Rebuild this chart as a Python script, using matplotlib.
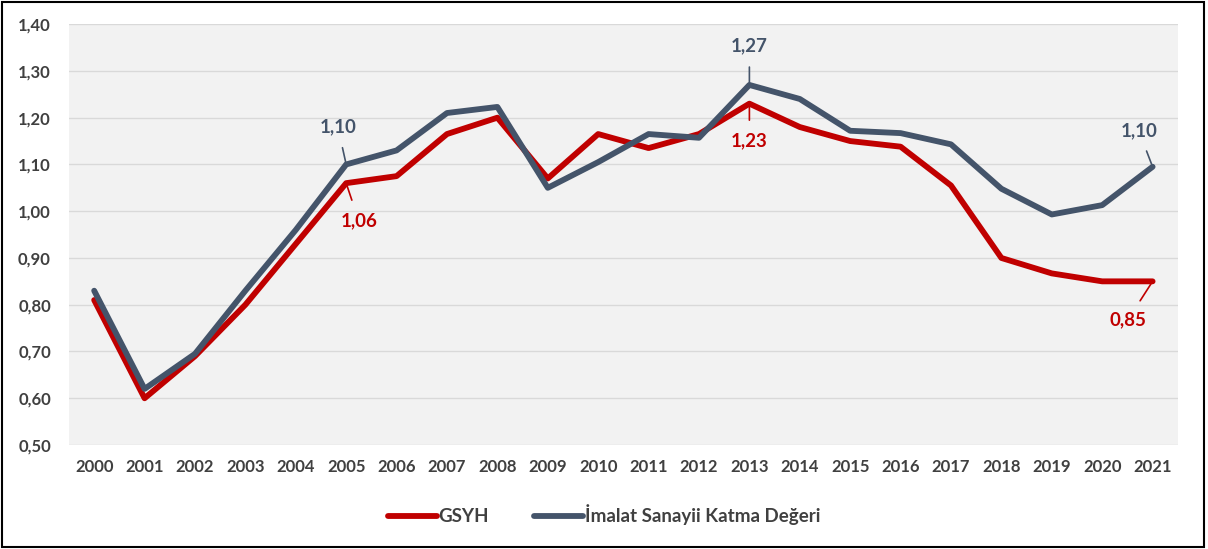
import numpy as np
import matplotlib.pyplot as plt
from matplotlib.patches import Rectangle

plt.rcParams['font.family'] = ['Lato', 'DejaVu Sans']

# veri
years = [str(y) for y in range(2000, 2022)]
gsyh = [0.81, 0.60, 0.69, 0.80, 0.93, 1.06, 1.075, 1.165, 1.20, 1.07, 1.165,
        1.135, 1.165, 1.23, 1.18, 1.15, 1.138, 1.055, 0.90, 0.867, 0.85, 0.85]
imalat = [0.83, 0.62, 0.695, 0.83, 0.96, 1.10, 1.13, 1.21, 1.223, 1.05, 1.105,
          1.165, 1.157, 1.27, 1.24, 1.172, 1.167, 1.143, 1.048, 0.993, 1.013, 1.095]
yticks = [0.5, 0.6, 0.7, 0.8, 0.9, 1.0, 1.1, 1.2, 1.3, 1.4]

red = '#C00000'
gray = '#44546A'
txt = '#404040'

fig = plt.figure(figsize=(12.08, 5.49), dpi=100)
ax = fig.add_axes([0.0571, 0.1894, 0.9179, 0.7666])
ax.set_facecolor('#F2F2F2')

x = np.arange(len(years))
ax.plot(x, gsyh, color=red, lw=4.2, label='GSYH', solid_capstyle='round', zorder=3)
ax.plot(x, imalat, color=gray, lw=4.2, label='İmalat Sanayii Katma Değeri',
        solid_capstyle='round', zorder=4)

ax.set_xlim(-0.5, len(years) - 0.5)
ax.set_ylim(0.5, 1.4)
ax.set_yticks(yticks)
ax.set_yticklabels([f'{v:.2f}'.replace('.', ',') for v in yticks])
ax.set_xticks(x)
ax.set_xticklabels(years)
ax.tick_params(length=0, labelsize=12, labelcolor=txt, pad=10)
ax.tick_params(axis='y', pad=13)
for lab in ax.get_xticklabels() + ax.get_yticklabels():
    lab.set_fontweight('bold')
ax.grid(axis='y', color='#D9D9D9', lw=1)
ax.set_axisbelow(True)
for s in ax.spines.values():
    s.set_visible(False)

# etiketler
def lab(i, vals, text, dx, dy, color):
    ax.annotate(text, xy=(i, vals[i]), xytext=(dx, dy), textcoords='offset points',
                ha='center', va='center', fontsize=13.5, fontweight='bold', color=color,
                arrowprops=dict(arrowstyle='-', color=color, lw=1.2, shrinkA=7, shrinkB=1))

lab(5, imalat, '1,10', -6, 27, gray)
lab(5, gsyh, '1,06', 9, -27, red)
lab(13, imalat, '1,27', 0, 28, gray)
lab(13, gsyh, '1,23', 0, -27, red)
lab(21, imalat, '1,10', -10, 26, gray)
lab(21, gsyh, '0,85', -18, -28, red)

leg = fig.legend(loc='center', bbox_to_anchor=(0.5, 0.062), ncol=2, frameon=False,
                 handlelength=2.6, handletextpad=0.1, columnspacing=2.4,
                 prop={'weight': 'bold', 'size': 13.5})
for t in leg.get_texts():
    t.set_color(txt)

fig.patches.append(Rectangle((0.002, 0.003), 0.995, 0.993, transform=fig.transFigure,
                             fill=False, ec='black', lw=1.5))

fig.savefig('out.png', dpi=100)
